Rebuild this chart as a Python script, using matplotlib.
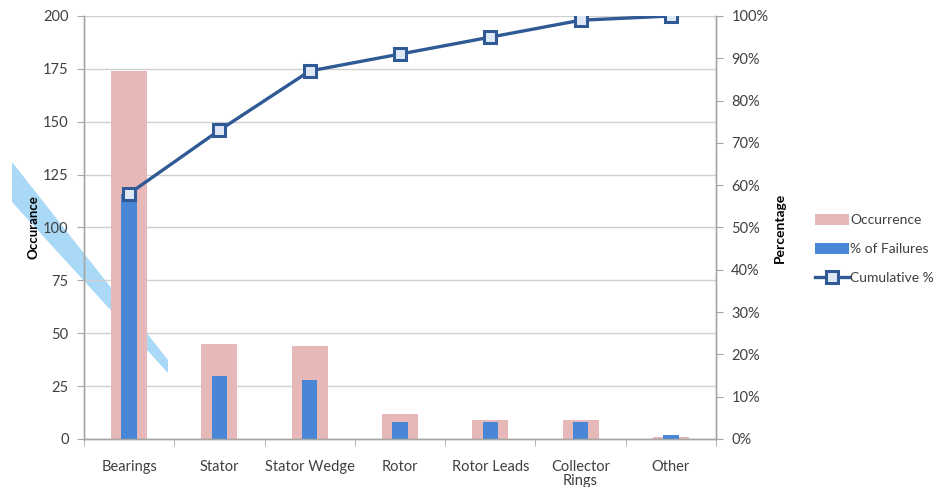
import matplotlib
matplotlib.use("Agg")
import matplotlib.pyplot as plt
from matplotlib.patches import Patch, Polygon
from matplotlib.lines import Line2D
from matplotlib.ticker import FixedLocator, PercentFormatter

# Failure categories and their counts
categories = ["Bearings", "Stator", "Stator Wedge", "Rotor", "Rotor Leads",
              "Collector\nRings", "Other"]
occurrence = [174, 45, 44, 12, 9, 9, 1]
pct_failures = [58, 15, 14, 4, 4, 4, 1]
cumulative_pct = [58, 73, 87, 91, 95, 99, 100]
left_ticks = [0, 25, 50, 75, 100, 125, 150, 175, 200]
right_ticks = [0, 10, 20, 30, 40, 50, 60, 70, 80, 90, 100]

plt.rcParams["font.family"] = ["Lato", "DejaVu Sans"]
TXT = "#404040"
AX = "#a6a6a6"
PINK = "#e6b8b7"
BLUE = "#4a86d6"
LINE = "#2f5a96"

W, H = 937, 487
fig = plt.figure(figsize=(W / 100, H / 100), dpi=100)
fig.patch.set_facecolor("white")

def fx(px):
    return px / W

def fy(py):
    return 1 - py / H

# light blue highlighter stroke in the left margin
band = Polygon([(fx(12), fy(162)), (fx(168), fy(360)), (fx(168), fy(373)),
                (fx(12), fy(202))], closed=True, transform=fig.transFigure,
               facecolor="#a9d9f6", edgecolor="none", zorder=-5)
fig.patches.append(band)

ax = fig.add_axes([fx(84), fy(439), fx(716) - fx(84), fy(16) - fy(439)])
ax.set_facecolor("none")
ax2 = ax.twinx()
ax2.set_facecolor("none")

x = list(range(len(categories)))

ax.bar(x, occurrence, width=0.40, color=PINK, zorder=2)
ax2.bar(x, pct_failures, width=0.17, color=BLUE, zorder=2)
ax2.plot(x, cumulative_pct, color=LINE, lw=2.4, marker="s", ms=8.5,
         markerfacecolor="#dfe8f5", markeredgecolor=LINE, markeredgewidth=2.2,
         zorder=3)

ax.set_xlim(-0.5, len(categories) - 0.5)
ax.set_ylim(0, 200)
ax2.set_ylim(0, 100)

ax.set_yticks(left_ticks)
ax.grid(axis="y", color="#d0d0d0", lw=1.0, zorder=0)
ax.set_axisbelow(True)
ax2.set_yticks(right_ticks)
ax2.yaxis.set_major_formatter(PercentFormatter(decimals=0))

ax.set_xticks(x)
ax.set_xticklabels(categories, linespacing=1.05)
ax.xaxis.set_minor_locator(FixedLocator([i - 0.5 for i in range(len(categories) + 1)]))
ax.tick_params(axis="x", which="major", length=0, pad=15, labelsize=10.5,
               labelcolor=TXT)
ax.tick_params(axis="x", which="minor", length=5, color=AX, direction="out")
ax.tick_params(axis="y", length=5, color=AX, labelsize=10.5, labelcolor=TXT, pad=6)
ax2.tick_params(axis="y", length=5, color=AX, labelsize=10.5, labelcolor=TXT, pad=6)

for a in (ax, ax2):
    a.spines["top"].set_visible(False)
    for s in ("left", "right", "bottom"):
        a.spines[s].set_color(AX)
        a.spines[s].set_linewidth(1.0)

ax.set_ylabel("Occurance", fontsize=9.5, fontweight="bold", color="black")
ax.yaxis.set_label_coords((40 - 84) / 632, 0.5)
ax2.set_ylabel("Percentage", fontsize=10, fontweight="bold", color="black",
               labelpad=4)

handles = [
    Patch(facecolor=PINK, edgecolor="none"),
    Patch(facecolor=BLUE, edgecolor="none"),
    Line2D([0], [0], color=LINE, lw=2.4, marker="s", ms=8,
           markerfacecolor="#dfe8f5", markeredgecolor=LINE, markeredgewidth=2.2),
]
labels = ["Occurrence", "% of Failures", "Cumulative %"]
fig.legend(handles, labels, loc="center left",
           bbox_to_anchor=(fx(803), fy(249)), frameon=False, fontsize=10,
           labelcolor=TXT, handlelength=2.4, handleheight=0.9,
           handletextpad=0.1, labelspacing=1.2)

fig.savefig("out.png", dpi=100, facecolor="white")
